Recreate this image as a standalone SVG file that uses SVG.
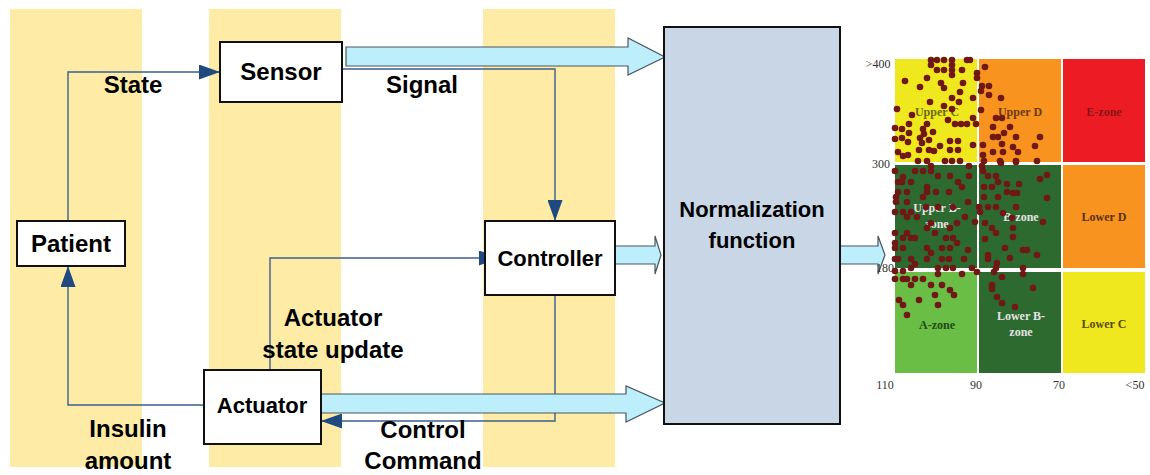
<svg xmlns="http://www.w3.org/2000/svg" width="1150" height="475" viewBox="0 0 1150 475">
<style>
.band{fill:#feeca6}
.box{fill:#fff;stroke:#111;stroke-width:2}
.t{font-family:"Liberation Sans",Arial,sans-serif;font-weight:bold;fill:#000;text-anchor:middle}
.ln{fill:none;stroke:#3c5f8c;stroke-width:1.4}
.blk{fill:#bdeefb;stroke:#4a5560;stroke-width:1.2}
.ax{font-family:"Liberation Serif","Times New Roman",serif;font-size:12px;fill:#333;text-anchor:middle}
.zl{font-family:"Liberation Serif","Times New Roman",serif;font-size:12px;font-weight:bold;text-anchor:middle}
.d{fill:#701816}
</style>
<defs>
<marker id="ah" markerUnits="userSpaceOnUse" markerWidth="21" markerHeight="15" refX="21" refY="7.5" orient="auto">
<path d="M0,0 L21,7.5 L0,15 Z" fill="#1f4a80"/>
</marker>
</defs>
<rect width="1150" height="475" fill="#fff"/>
<g id="bands">
<rect class="band" x="10" y="9" width="132" height="458"/>
<rect class="band" x="209" y="9" width="132" height="458"/>
<rect class="band" x="483" y="9" width="132" height="458"/>
</g>
<g id="connectors">
<path class="ln" d="M68,221 L68,72 L220,72" marker-end="url(#ah)"/>
<path class="ln" d="M342,69 L555,69 L555,221" marker-end="url(#ah)"/>
<path class="ln" d="M204,405 L68,405 L68,266" marker-end="url(#ah)"/>
<path class="ln" d="M270,370 L270,258 L500,258" marker-end="url(#ah)"/>
<path class="ln" d="M555,295 L555,421 L321,421" marker-end="url(#ah)"/>
<path class="blk" d="M346,47 L628,47 L628,38 L665,57 L628,75 L628,66 L346,66 Z"/>
<path class="blk" d="M615,246 L655,246 L655,236 L661,255 L655,274 L655,264 L615,264 Z"/>
<path class="blk" d="M321,394 L626,394 L626,386 L665,403 L626,422 L626,413 L321,413 Z"/>
<path class="blk" d="M840,246 L878,246 L878,236 L885,255 L878,274 L878,264 L840,264 Z"/>
<text class="t" x="133" y="93" font-size="24">State</text>
<text class="t" x="422" y="93" font-size="24">Signal</text>
<text class="t" x="333" y="326" font-size="24">Actuator</text>
<text class="t" x="333" y="358" font-size="24">state update</text>
<text class="t" x="128" y="437" font-size="24">Insulin</text>
<text class="t" x="128" y="469" font-size="24">amount</text>
<text class="t" x="423" y="438" font-size="24">Control</text>
<text class="t" x="423" y="469" font-size="24">Command</text>
</g>
<g id="sensor">
<rect class="box" x="220" y="42" width="122" height="60"/>
<text class="t" x="281" y="80" font-size="24">Sensor</text>
</g>
<g id="patient">
<rect class="box" x="17" y="221" width="108" height="45"/>
<text class="t" x="71" y="252" font-size="24">Patient</text>
</g>
<g id="actuator">
<rect class="box" x="204" y="370" width="117" height="74"/>
<text class="t" x="262" y="413" font-size="22">Actuator</text>
</g>
<g id="controller">
<rect class="box" x="485" y="221" width="130" height="74"/>
<text class="t" x="550" y="266" font-size="22">Controller</text>
</g>
<g id="normalization">
<rect x="664" y="27" width="176" height="397" fill="#c9d6e6" stroke="#111" stroke-width="2"/>
<text class="t" x="752" y="217" font-size="22">Normalization</text>
<text class="t" x="752" y="248" font-size="22">function</text>
</g>
<g id="grid">
<rect x="895" y="59" width="82" height="103" fill="#f0e81e"/>
<rect x="979" y="59" width="82" height="103" fill="#f7931e"/>
<rect x="1063" y="59" width="82" height="103" fill="#ed1c24"/>
<rect x="895" y="165" width="82" height="103" fill="#2d6a30"/>
<rect x="979" y="165" width="82" height="103" fill="#2d6a30"/>
<rect x="1063" y="165" width="82" height="103" fill="#f7931e"/>
<rect x="895" y="272" width="82" height="101" fill="#6abd45"/>
<rect x="979" y="272" width="82" height="101" fill="#2d6a30"/>
<rect x="1063" y="272" width="82" height="101" fill="#f0e81e"/>
<text class="ax" x="878" y="68">&gt;400</text>
<text class="ax" x="881" y="168">300</text>
<text class="ax" x="885" y="272">180</text>
<text class="ax" x="885" y="389">110</text>
<text class="ax" x="976" y="389">90</text>
<text class="ax" x="1059" y="389">70</text>
<text class="ax" x="1135" y="389">&lt;50</text>
<text class="zl" x="937" y="116" fill="#6b6a10">Upper C</text>
<text class="zl" x="1020" y="116" fill="#6a3a10">Upper D</text>
<text class="zl" x="1104" y="116" fill="#8a1414">E-zone</text>
<text class="zl" x="937" y="212" fill="#e4e4e4">Upper B-</text>
<text class="zl" x="937" y="228" fill="#e4e4e4">zone</text>
<text class="zl" x="1021" y="221" fill="#e4e4e4">B-zone</text>
<text class="zl" x="1104" y="221" fill="#5a3010">Lower D</text>
<text class="zl" x="937" y="329" fill="#1f4a18">A-zone</text>
<text class="zl" x="1021" y="320" fill="#e4e4e4">Lower B-</text>
<text class="zl" x="1021" y="336" fill="#e4e4e4">zone</text>
<text class="zl" x="1104" y="328" fill="#5a4a10">Lower C</text>
<g id="dots">
<circle class="d" cx="931" cy="60" r="3.3"/><circle class="d" cx="937" cy="60" r="3.3"/><circle class="d" cx="944" cy="60" r="3.3"/><circle class="d" cx="952" cy="60" r="3.3"/><circle class="d" cx="967" cy="60" r="3.3"/><circle class="d" cx="970" cy="60" r="3.3"/>
<circle class="d" cx="931" cy="65" r="3.3"/><circle class="d" cx="952" cy="65" r="3.3"/>
<circle class="d" cx="937" cy="70" r="3.3"/><circle class="d" cx="944" cy="70" r="3.3"/><circle class="d" cx="952" cy="70" r="3.3"/><circle class="d" cx="962" cy="70" r="3.3"/>
<circle class="d" cx="977" cy="73" r="3.3"/><circle class="d" cx="985" cy="67" r="3.3"/>
<circle class="d" cx="905" cy="81" r="3.3"/><circle class="d" cx="927" cy="78" r="3.3"/><circle class="d" cx="952" cy="75" r="3.3"/><circle class="d" cx="941" cy="83" r="3.3"/><circle class="d" cx="963" cy="83" r="3.3"/><circle class="d" cx="977" cy="78" r="3.3"/>
<circle class="d" cx="920" cy="87" r="3.3"/><circle class="d" cx="944" cy="88" r="3.3"/><circle class="d" cx="960" cy="92" r="3.3"/><circle class="d" cx="982" cy="86" r="3.3"/><circle class="d" cx="989" cy="86" r="3.3"/><circle class="d" cx="981" cy="91" r="3.3"/><circle class="d" cx="989" cy="95" r="3.3"/>
<circle class="d" cx="952" cy="98" r="3.3"/><circle class="d" cx="973" cy="98" r="3.3"/><circle class="d" cx="1001" cy="98" r="3.3"/>
<circle class="d" cx="930" cy="102" r="3.3"/><circle class="d" cx="959" cy="102" r="3.3"/><circle class="d" cx="944" cy="106" r="3.3"/>
<circle class="d" cx="897" cy="109" r="3.3"/><circle class="d" cx="912" cy="115" r="3.3"/><circle class="d" cx="952" cy="109" r="3.3"/><circle class="d" cx="981" cy="110" r="3.3"/>
<circle class="d" cx="996" cy="118" r="3.3"/><circle class="d" cx="1002" cy="118" r="3.3"/><circle class="d" cx="973" cy="118" r="3.3"/><circle class="d" cx="948" cy="120" r="3.3"/><circle class="d" cx="955" cy="124" r="3.3"/><circle class="d" cx="961" cy="124" r="3.3"/><circle class="d" cx="967" cy="124" r="3.3"/><circle class="d" cx="976" cy="124" r="3.3"/>
<circle class="d" cx="927" cy="124" r="3.3"/><circle class="d" cx="909" cy="124" r="3.3"/><circle class="d" cx="993" cy="127" r="3.3"/><circle class="d" cx="1010" cy="127" r="3.3"/>
<circle class="d" cx="895" cy="128" r="3.3"/><circle class="d" cx="902" cy="129" r="3.3"/><circle class="d" cx="923" cy="129" r="3.3"/><circle class="d" cx="924" cy="134" r="3.3"/><circle class="d" cx="920" cy="138" r="3.3"/>
<circle class="d" cx="909" cy="133" r="3.3"/><circle class="d" cx="895" cy="139" r="3.3"/><circle class="d" cx="902" cy="138" r="3.3"/><circle class="d" cx="908" cy="142" r="3.3"/><circle class="d" cx="933" cy="132" r="3.3"/>
<circle class="d" cx="993" cy="137" r="3.3"/><circle class="d" cx="998" cy="137" r="3.3"/><circle class="d" cx="1004" cy="133" r="3.3"/><circle class="d" cx="1016" cy="137" r="3.3"/><circle class="d" cx="1040" cy="137" r="3.3"/>
<circle class="d" cx="922" cy="143" r="3.3"/><circle class="d" cx="929" cy="140" r="3.3"/><circle class="d" cx="940" cy="146" r="3.3"/><circle class="d" cx="950" cy="141" r="3.3"/><circle class="d" cx="958" cy="141" r="3.3"/><circle class="d" cx="973" cy="145" r="3.3"/>
<circle class="d" cx="983" cy="145" r="3.3"/><circle class="d" cx="1002" cy="144" r="3.3"/><circle class="d" cx="1013" cy="147" r="3.3"/><circle class="d" cx="1035" cy="146" r="3.3"/>
<circle class="d" cx="898" cy="152" r="3.3"/><circle class="d" cx="903" cy="156" r="3.3"/><circle class="d" cx="908" cy="155" r="3.3"/><circle class="d" cx="919" cy="150" r="3.3"/><circle class="d" cx="929" cy="150" r="3.3"/><circle class="d" cx="934" cy="151" r="3.3"/><circle class="d" cx="950" cy="150" r="3.3"/><circle class="d" cx="958" cy="150" r="3.3"/>
<circle class="d" cx="983" cy="155" r="3.3"/><circle class="d" cx="993" cy="152" r="3.3"/><circle class="d" cx="1003" cy="152" r="3.3"/><circle class="d" cx="1018" cy="152" r="3.3"/><circle class="d" cx="1037" cy="161" r="3.3"/>
<circle class="d" cx="918" cy="161" r="3.3"/><circle class="d" cx="927" cy="161" r="3.3"/><circle class="d" cx="945" cy="161" r="3.3"/><circle class="d" cx="952" cy="161" r="3.3"/><circle class="d" cx="960" cy="161" r="3.3"/><circle class="d" cx="984" cy="161" r="3.3"/><circle class="d" cx="1000" cy="161" r="3.3"/><circle class="d" cx="1016" cy="161" r="3.3"/>
<circle class="d" cx="895" cy="171" r="3.3"/><circle class="d" cx="903" cy="177" r="3.3"/><circle class="d" cx="915" cy="171" r="3.3"/><circle class="d" cx="923" cy="171" r="3.3"/><circle class="d" cx="931" cy="171" r="3.3"/><circle class="d" cx="931" cy="166" r="3.3"/>
<circle class="d" cx="938" cy="176" r="3.3"/><circle class="d" cx="950" cy="176" r="3.3"/><circle class="d" cx="969" cy="176" r="3.3"/><circle class="d" cx="969" cy="166" r="3.3"/>
<circle class="d" cx="898" cy="182" r="3.3"/><circle class="d" cx="902" cy="182" r="3.3"/><circle class="d" cx="911" cy="182" r="3.3"/><circle class="d" cx="927" cy="187" r="3.3"/><circle class="d" cx="927" cy="192" r="3.3"/><circle class="d" cx="958" cy="182" r="3.3"/><circle class="d" cx="962" cy="187" r="3.3"/>
<circle class="d" cx="982" cy="166" r="3.3"/><circle class="d" cx="983" cy="171" r="3.3"/><circle class="d" cx="988" cy="176" r="3.3"/><circle class="d" cx="996" cy="176" r="3.3"/><circle class="d" cx="1001" cy="163" r="3.3"/><circle class="d" cx="1016" cy="162" r="3.3"/>
<circle class="d" cx="984" cy="187" r="3.3"/><circle class="d" cx="992" cy="187" r="3.3"/><circle class="d" cx="998" cy="182" r="3.3"/><circle class="d" cx="1007" cy="184" r="3.3"/><circle class="d" cx="1019" cy="184" r="3.3"/><circle class="d" cx="1040" cy="179" r="3.3"/><circle class="d" cx="1047" cy="175" r="3.3"/>
<circle class="d" cx="898" cy="192" r="3.3"/><circle class="d" cx="907" cy="192" r="3.3"/><circle class="d" cx="923" cy="197" r="3.3"/><circle class="d" cx="936" cy="192" r="3.3"/><circle class="d" cx="949" cy="192" r="3.3"/><circle class="d" cx="896" cy="197" r="3.3"/><circle class="d" cx="896" cy="202" r="3.3"/><circle class="d" cx="907" cy="202" r="3.3"/>
<circle class="d" cx="984" cy="197" r="3.3"/><circle class="d" cx="998" cy="197" r="3.3"/><circle class="d" cx="1007" cy="192" r="3.3"/><circle class="d" cx="1013" cy="193" r="3.3"/><circle class="d" cx="1017" cy="193" r="3.3"/><circle class="d" cx="1047" cy="198" r="3.3"/>
<circle class="d" cx="895" cy="212" r="3.3"/><circle class="d" cx="903" cy="212" r="3.3"/><circle class="d" cx="911" cy="212" r="3.3"/><circle class="d" cx="926" cy="207" r="3.3"/><circle class="d" cx="938" cy="207" r="3.3"/><circle class="d" cx="953" cy="207" r="3.3"/><circle class="d" cx="968" cy="202" r="3.3"/><circle class="d" cx="979" cy="207" r="3.3"/><circle class="d" cx="980" cy="212" r="3.3"/>
<circle class="d" cx="988" cy="207" r="3.3"/><circle class="d" cx="996" cy="207" r="3.3"/><circle class="d" cx="1016" cy="207" r="3.3"/>
<circle class="d" cx="907" cy="217" r="3.3"/><circle class="d" cx="917" cy="217" r="3.3"/><circle class="d" cx="931" cy="223" r="3.3"/><circle class="d" cx="965" cy="217" r="3.3"/><circle class="d" cx="975" cy="222" r="3.3"/><circle class="d" cx="1003" cy="213" r="3.3"/><circle class="d" cx="1012" cy="218" r="3.3"/><circle class="d" cx="1043" cy="222" r="3.3"/>
<circle class="d" cx="895" cy="233" r="3.3"/><circle class="d" cx="907" cy="233" r="3.3"/><circle class="d" cx="927" cy="228" r="3.3"/><circle class="d" cx="935" cy="233" r="3.3"/><circle class="d" cx="950" cy="228" r="3.3"/><circle class="d" cx="957" cy="223" r="3.3"/>
<circle class="d" cx="985" cy="223" r="3.3"/><circle class="d" cx="992" cy="228" r="3.3"/><circle class="d" cx="996" cy="233" r="3.3"/><circle class="d" cx="1013" cy="228" r="3.3"/>
<circle class="d" cx="895" cy="243" r="3.3"/><circle class="d" cx="903" cy="238" r="3.3"/><circle class="d" cx="911" cy="238" r="3.3"/><circle class="d" cx="915" cy="238" r="3.3"/><circle class="d" cx="946" cy="238" r="3.3"/><circle class="d" cx="953" cy="238" r="3.3"/><circle class="d" cx="957" cy="243" r="3.3"/>
<circle class="d" cx="985" cy="239" r="3.3"/><circle class="d" cx="1005" cy="248" r="3.3"/><circle class="d" cx="1013" cy="237" r="3.3"/><circle class="d" cx="1023" cy="250" r="3.3"/><circle class="d" cx="1027" cy="250" r="3.3"/>
<circle class="d" cx="895" cy="248" r="3.3"/><circle class="d" cx="903" cy="248" r="3.3"/><circle class="d" cx="927" cy="248" r="3.3"/><circle class="d" cx="942" cy="248" r="3.3"/><circle class="d" cx="950" cy="248" r="3.3"/><circle class="d" cx="968" cy="250" r="3.3"/><circle class="d" cx="931" cy="253" r="3.3"/>
<circle class="d" cx="988" cy="255" r="3.3"/><circle class="d" cx="988" cy="259" r="3.3"/><circle class="d" cx="1037" cy="255" r="3.3"/>
<circle class="d" cx="895" cy="259" r="3.3"/><circle class="d" cx="898" cy="259" r="3.3"/><circle class="d" cx="911" cy="259" r="3.3"/><circle class="d" cx="927" cy="259" r="3.3"/><circle class="d" cx="942" cy="259" r="3.3"/><circle class="d" cx="949" cy="259" r="3.3"/><circle class="d" cx="964" cy="259" r="3.3"/>
<circle class="d" cx="997" cy="263" r="3.3"/><circle class="d" cx="1010" cy="258" r="3.3"/>
<circle class="d" cx="911" cy="268" r="3.3"/><circle class="d" cx="915" cy="264" r="3.3"/><circle class="d" cx="938" cy="268" r="3.3"/><circle class="d" cx="946" cy="268" r="3.3"/><circle class="d" cx="953" cy="268" r="3.3"/><circle class="d" cx="972" cy="268" r="3.3"/><circle class="d" cx="977" cy="272" r="3.3"/>
<circle class="d" cx="996" cy="268" r="3.3"/><circle class="d" cx="1023" cy="268" r="3.3"/>
<circle class="d" cx="895" cy="279" r="3.3"/><circle class="d" cx="903" cy="279" r="3.3"/><circle class="d" cx="907" cy="279" r="3.3"/><circle class="d" cx="915" cy="279" r="3.3"/><circle class="d" cx="923" cy="279" r="3.3"/>
<circle class="d" cx="895" cy="271" r="3.3"/><circle class="d" cx="903" cy="271" r="3.3"/><circle class="d" cx="938" cy="274" r="3.3"/><circle class="d" cx="962" cy="274" r="3.3"/>
<circle class="d" cx="911" cy="285" r="3.3"/><circle class="d" cx="931" cy="285" r="3.3"/><circle class="d" cx="942" cy="285" r="3.3"/><circle class="d" cx="950" cy="290" r="3.3"/><circle class="d" cx="954" cy="295" r="3.3"/><circle class="d" cx="935" cy="295" r="3.3"/>
<circle class="d" cx="899" cy="300" r="3.3"/><circle class="d" cx="903" cy="305" r="3.3"/><circle class="d" cx="919" cy="300" r="3.3"/><circle class="d" cx="938" cy="305" r="3.3"/><circle class="d" cx="907" cy="315" r="3.3"/>
<circle class="d" cx="994" cy="272" r="3.3"/><circle class="d" cx="1002" cy="277" r="3.3"/><circle class="d" cx="1023" cy="274" r="3.3"/><circle class="d" cx="992" cy="285" r="3.3"/><circle class="d" cx="992" cy="289" r="3.3"/><circle class="d" cx="1033" cy="288" r="3.3"/><circle class="d" cx="997" cy="297" r="3.3"/><circle class="d" cx="1002" cy="303" r="3.3"/><circle class="d" cx="1015" cy="307" r="3.3"/>
</g>
</g>
</svg>
